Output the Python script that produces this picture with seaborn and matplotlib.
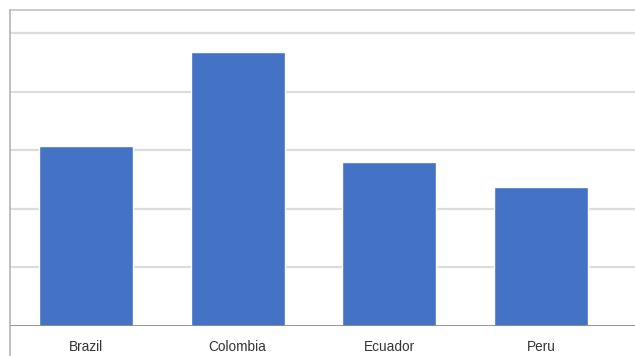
import matplotlib
matplotlib.use("Agg")
import matplotlib.pyplot as plt
from matplotlib.lines import Line2D
import seaborn as sns
import pandas as pd

countries = ["Brazil", "Colombia", "Ecuador", "Peru"]
values = [3.08, 4.68, 2.80, 2.38]
grid_levels = [1, 2, 3, 4, 5]

sns.set_theme(style="white")
plt.rcParams["font.family"] = ["Liberation Sans", "DejaVu Sans"]

df = pd.DataFrame({"country": countries, "value": values})

fig = plt.figure(figsize=(6.35, 3.56), dpi=100)
ax = fig.add_axes([10 / 635, 1 - 326 / 356, 625 / 635, 316 / 356])

sns.barplot(data=df, x="country", y="value", color="#4472C4", saturation=1,
            width=0.62, ax=ax, zorder=3)

ax.set_xlim(-0.5, 3.62)
ax.set_ylim(0, 5.4)
for lv in grid_levels:
    ax.axhline(lv, color="#dcdcdc", lw=1.6, zorder=1)
ax.axhline(0, color="#8a8a8a", lw=2.0, zorder=4)

ax.set_yticks([])
ax.set_xlabel("")
ax.set_ylabel("")
ax.tick_params(axis="x", length=0, pad=10, labelsize=9.8, labelcolor="#333333")
for s in ["left", "right", "bottom"]:
    ax.spines[s].set_visible(False)
ax.spines["top"].set_color("#c0c0c0")
ax.spines["top"].set_linewidth(1.2)

# outer frame line along the left edge
fig.add_artist(Line2D([10 / 635, 10 / 635], [0, 1 - 10 / 356],
                      transform=fig.transFigure, color="#b5b5b5", lw=1.2))

fig.savefig("out.png", dpi=100)
